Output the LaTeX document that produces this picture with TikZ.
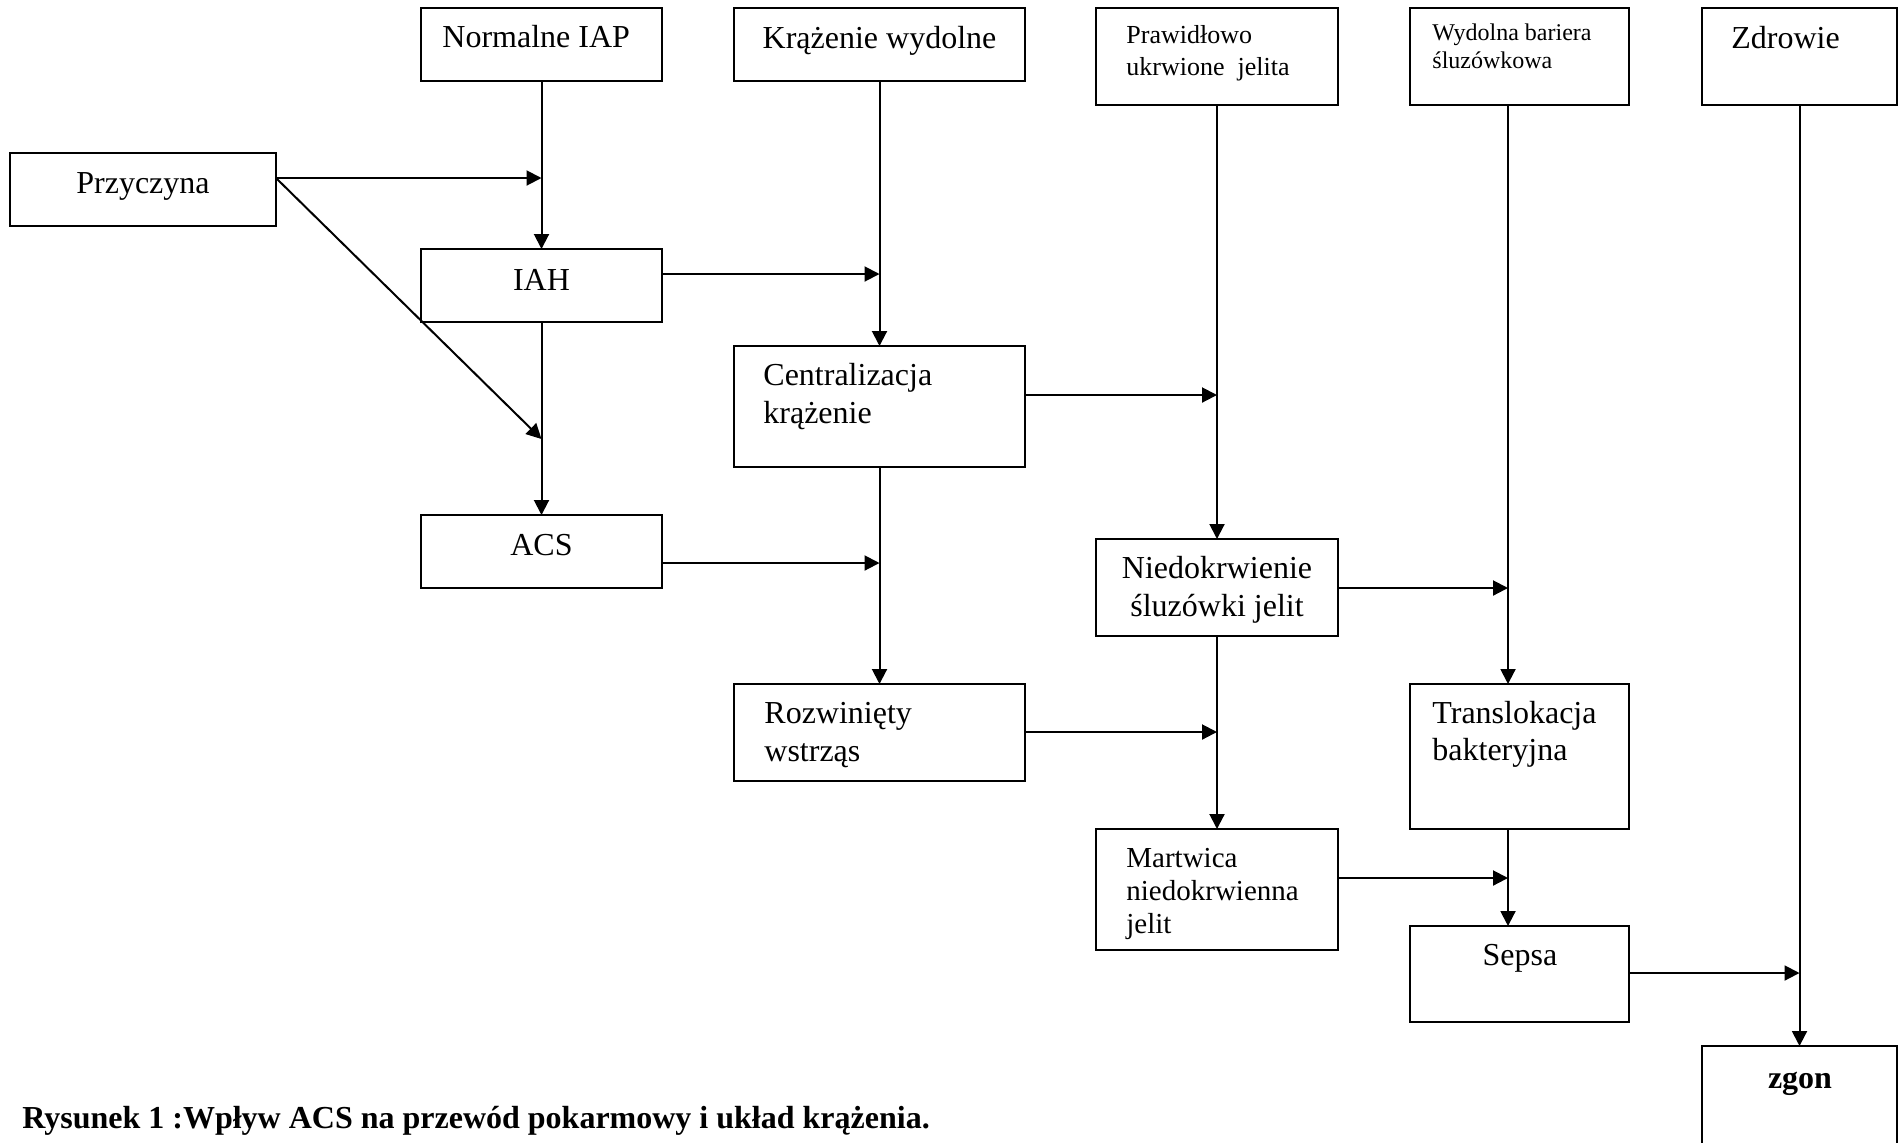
\documentclass[tikz,border=0pt]{standalone}
\usepackage{fontspec}
\setmainfont{Liberation Serif}
\usetikzlibrary{arrows.meta}
\newcommand\mybox[5]{\node[box, anchor=north west, minimum width=#4*0.5pt, minimum height=#5*0.5pt] (#1) at (#2,#3) {};}
\begin{document}
\begin{tikzpicture}[x=0.5pt, y=-0.5pt,
  box/.style={draw, line width=0.75pt, inner sep=0pt, outer sep=0pt},
  arr/.style={line width=1pt, -{Triangle[length=7.5pt,width=7.5pt]}},
  big/.style={font=\fontsize{16}{19}\selectfont, inner sep=0pt},
  mid/.style={font=\fontsize{14.5}{17}\selectfont, inner sep=0pt},
  sm/.style={font=\fontsize{13}{16}\selectfont, inner sep=0pt},
  xs/.style={font=\fontsize{12}{14}\selectfont, inner sep=0pt},
  bld/.style={font=\fontsize{16}{19}\selectfont\bfseries, inner sep=0pt}]
\fill[white] (0,0) rectangle (1898,1142);
\useasboundingbox (0,0) rectangle (1898,1142);

% boxes
\mybox{norm}{421}{8}{241}{73}
\mybox{kraz}{734}{8}{291}{73}
\mybox{praw}{1096}{8}{242}{97}
\mybox{wyd}{1410}{8}{219}{97}
\mybox{zdr}{1702}{8}{195}{97}
\mybox{przy}{10}{153}{266}{73}
\mybox{iah}{421}{249}{241}{73}
\mybox{cent}{734}{346}{291}{121}
\mybox{acs}{421}{515}{241}{73}
\mybox{nied}{1096}{539}{242}{97}
\mybox{rozw}{734}{684}{291}{97}
\mybox{trans}{1410}{684}{219}{145}
\mybox{mart}{1096}{829}{242}{121}
\mybox{sepsa}{1410}{926}{219}{96}
\mybox{zgon}{1702}{1046}{195}{130}

% texts
\node[big, anchor=base west] (tnorm) at (442,47) {Normalne IAP};
\node[big, anchor=base] (tkraz) at (879.5,48) {Krążenie wydolne};
\node[sm, anchor=base west] (tpraw1) at (1126,43) {Prawidłowo};
\node[sm, anchor=base west] (tpraw2) at (1126,75) {ukrwione\ \ jelita};
\node[xs, anchor=base west] (twyd1) at (1432,40) {Wydolna bariera};
\node[xs, anchor=base west] (twyd2) at (1432,68) {śluzówkowa};
\node[big, anchor=base west] (tzdr) at (1731,48) {Zdrowie};
\node[big, anchor=base] (tprzy) at (143,193) {Przyczyna};
\node[big, anchor=base] (tiah) at (541.5,290) {IAH};
\node[big, anchor=base west] (tcent1) at (763,385) {Centralizacja};
\node[big, anchor=base west] (tcent2) at (763,423) {krążenie};
\node[big, anchor=base] (tacs) at (541.5,555) {ACS};
\node[big, anchor=base] (tnied1) at (1217,578) {Niedokrwienie};
\node[big, anchor=base] (tnied2) at (1217,616) {śluzówki jelit};
\node[big, anchor=base west] (trozw1) at (764,723) {Rozwinięty};
\node[big, anchor=base west] (trozw2) at (764,761) {wstrząs};
\node[mid, anchor=base west] (tmart1) at (1126,867) {Martwica};
\node[mid, anchor=base west] (tmart2) at (1126,900) {niedokrwienna};
\node[mid, anchor=base west] (tmart3) at (1126,933) {jelit};
\node[big, anchor=base west] (ttrans1) at (1432,723) {Translokacja};
\node[big, anchor=base west] (ttrans2) at (1432,760) {bakteryjna};
\node[big, anchor=base] (tsepsa) at (1520,965) {Sepsa};
\node[bld, anchor=base] (tzgon) at (1800,1088) {zgon};
\node[bld, anchor=base west] (tcap) at (22,1128) {Rysunek 1 :Wpływ ACS na przewód pokarmowy i układ krążenia.};

% junctions
\coordinate (j1) at (541.5,178);
\coordinate (j2) at (541.5,439);
\coordinate (j3) at (879.5,274);
\coordinate (j4) at (879.5,563);
\coordinate (j5) at (1217,395);
\coordinate (j6) at (1217,732);
\coordinate (j7) at (1508,588);
\coordinate (j8) at (1508,878);
\coordinate (j9) at (1799.5,973);

% vertical arrows
\draw[arr] (norm.south) -- (iah.north);
\draw[arr] (iah.south) -- (acs.north);
\draw[arr] (kraz.south) -- (cent.north);
\draw[arr] (cent.south) -- (rozw.north);
\draw[arr] (praw.south) -- (nied.north);
\draw[arr] (nied.south) -- (mart.north);
\draw[arr] (wyd.south -| j7) -- (trans.north -| j7);
\draw[arr] (trans.south -| j7) -- (sepsa.north -| j7);
\draw[arr] (zdr.south) -- (zgon.north);

% horizontal arrows
\draw[arr] (przy.east |- j1) -- (j1);
\draw[arr] (przy.east |- j1) -- (j2);
\draw[arr] (iah.east |- j3) -- (j3);
\draw[arr] (acs.east |- j4) -- (j4);
\draw[arr] (cent.east |- j5) -- (j5);
\draw[arr] (rozw.east |- j6) -- (j6);
\draw[arr] (nied.east |- j7) -- (j7);
\draw[arr] (mart.east |- j8) -- (j8);
\draw[arr] (sepsa.east |- j9) -- (j9);
\end{tikzpicture}
\end{document}
